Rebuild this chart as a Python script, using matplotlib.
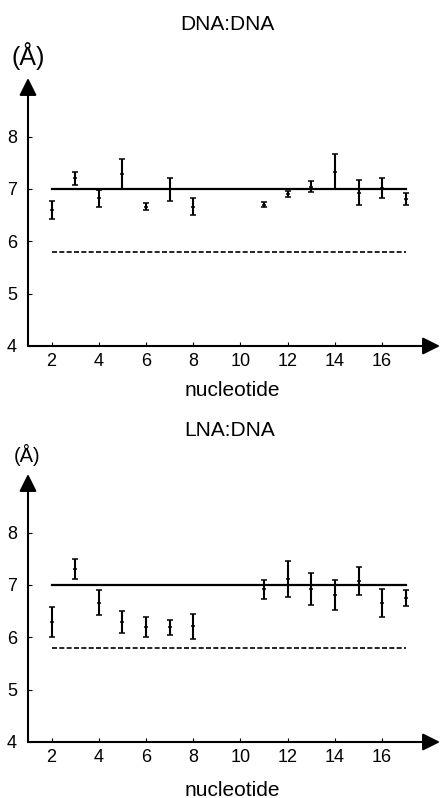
import matplotlib
matplotlib.use('Agg')
from matplotlib import pyplot as plt

plt.rcParams['font.family'] = ['Liberation Sans', 'DejaVu Sans']

# nucleotide positions
dna_x = [2, 3, 4, 5, 6, 7, 8, 11, 12, 13, 14, 15, 16, 17]
dna_y = [6.60, 7.20, 6.82, 7.28, 6.66, 6.99, 6.66, 6.70, 6.91, 7.04, 7.33, 6.93, 7.02, 6.81]
dna_err = [0.175, 0.12, 0.16, 0.285, 0.065, 0.225, 0.165, 0.05, 0.055, 0.105, 0.33, 0.24, 0.19, 0.12]

lna_x = [2, 3, 4, 5, 6, 7, 8, 11, 12, 13, 14, 15, 16, 17]
lna_y = [6.29, 7.30, 6.66, 6.29, 6.19, 6.19, 6.21, 6.92, 7.12, 6.92, 6.81, 7.07, 6.65, 6.75]
lna_err = [0.28, 0.19, 0.235, 0.215, 0.19, 0.15, 0.235, 0.18, 0.345, 0.30, 0.29, 0.27, 0.27, 0.155]

ref_hi = 7.0
ref_lo = 5.8
xticks = [2, 4, 6, 8, 10, 12, 14, 16]
yticks = [4, 5, 6, 7, 8]

W, H = 441, 798
fig = plt.figure(figsize=(W / 100, H / 100), dpi=100)


def panel(bottom_px, x, y, err):
    ax = fig.add_axes([28 / W, 1 - bottom_px / H, 412 / W, 268 / H])
    ax.set_xlim(1, 18.45)
    ax.set_ylim(4, 9.12)
    for s in ax.spines.values():
        s.set_visible(False)
    arr = dict(arrowstyle='-|>,head_length=1.0,head_width=0.5', lw=1.5,
               color='black', mutation_scale=10.5, shrinkA=0, shrinkB=0)
    ax.annotate('', xy=(1, 0), xytext=(0, 0), xycoords='axes fraction',
                arrowprops=arr)
    ax.annotate('', xy=(0, 1), xytext=(0, 0), xycoords='axes fraction',
                arrowprops=arr)
    ax.plot([2, 17], [ref_hi, ref_hi], color='black', lw=1.6)
    ax.plot([2, 17], [ref_lo, ref_lo], color='black', lw=1.2, dashes=(3, 1.4))
    ax.errorbar(x, y, yerr=err, fmt='_', color='black', ms=3.5, mew=1.1,
                elinewidth=1.5, capsize=2, capthick=1.5)
    ax.set_xticks(xticks)
    ax.set_yticks(yticks)
    ax.tick_params(direction='in', length=3, width=0.8, labelsize=13)
    ax.tick_params(axis='y', pad=8)
    ax.tick_params(axis='x', pad=5)
    return ax


panel(346, dna_x, dna_y, dna_err)
panel(742, lna_x, lna_y, lna_err)

fig.text(227 / W, 1 - 24 / H, 'DNA:DNA', ha='center', va='center', size=15)
fig.text(28.5 / W, 1 - 56 / H, '(Å)', ha='center', va='center', size=18)
fig.text(232 / W, 1 - 390 / H, 'nucleotide', ha='center', va='center', size=15)

fig.text(229.5 / W, 1 - 430 / H, 'LNA:DNA', ha='center', va='center', size=15)
fig.text(26.7 / W, 1 - 455 / H, '(Å)', ha='center', va='center', size=14.5)
fig.text(232.5 / W, 1 - 790 / H, 'nucleotide', ha='center', va='center', size=15)

fig.savefig('out.png', dpi=100)
